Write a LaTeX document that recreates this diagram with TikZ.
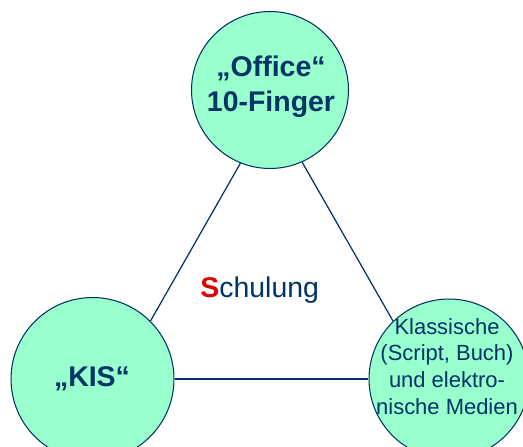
\documentclass[tikz,border=0pt]{standalone}
\usepackage{fontspec}
\setmainfont{Liberation Sans}
\definecolor{mint}{HTML}{99FFCC}
\definecolor{navy}{HTML}{003366}
\definecolor{sred}{HTML}{E00000}
\newcommand{\bigtxt}  {\fontsize{16.2}{19.8}\selectfont}
\newcommand{\smalltxt}{\fontsize{12.5}{15.3}\selectfont}

\begin{document}
\begin{tikzpicture}[x=0.02cm,y=-0.02cm,
    bubble/.style={circle,draw=navy,line width=0.6pt,fill=mint,inner sep=0pt},
    edge/.style={draw=navy,line width=0.7pt},
    label/.style={text=navy,align=center,inner sep=0pt}]
     \useasboundingbox (0,0) rectangle (523,446);
     \clip (0,0) rectangle (523,446);
     % the three circles
     \node[bubble,minimum size=3.14cm] (office) at (270,90)    {};
     \node[bubble,minimum size=3.26cm] (kis)    at (92.5,379)  {};
     \node[bubble,minimum size=3.2cm]  (medien) at (449,379)   {};
     % triangle sides
     \draw[edge] (office.248) -- (kis.45);
     \draw[edge] (office.294) -- (medien.134);
     \draw[edge] (kis) -- (medien);
     % texts
     \node[label,font=\bigtxt\bfseries] (officetxt) at (271,86.5)  {„Office“\\10-Finger};
     \node[label,font=\bigtxt\bfseries] (kistxt)    at (92,378.3)  {„KIS“};
     \node[label,font=\smalltxt]        (medientxt) at (447,366.5)
        {Klassische\\(Script, Buch)\\und elektro-\\nische Medien};
     \node[label,font=\bigtxt,anchor=base west] (schulung) at (200,297)
        {\textcolor{sred}{\bfseries S}chulung};
\end{tikzpicture}
\end{document}
